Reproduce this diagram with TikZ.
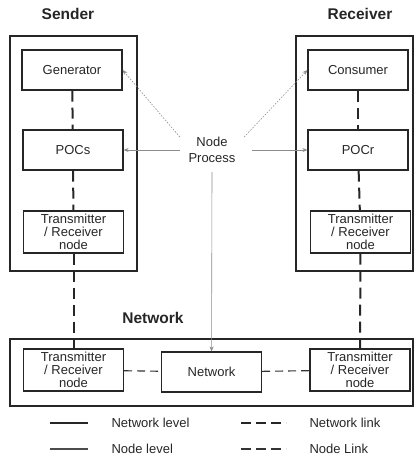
\documentclass[tikz,border=0pt]{standalone}
\usepackage{fontspec}
\setmainfont{Liberation Sans}
\usetikzlibrary{arrows.meta, positioning}

\begin{document}
\begin{tikzpicture}[x=1pt, y=-1pt,
    font=\fontsize{13}{13}\selectfont, text=black!85,
    unit/.style={draw=black!85, line width=1.2pt, minimum width=100pt, minimum height=40pt, inner sep=1pt, align=center},
    frame/.style={draw=black!85, line width=2.2pt},
    title/.style={font=\fontsize{15.5}{16}\selectfont\bfseries},
    netlink/.style={draw=black!85, line width=2pt, dash pattern=on 11pt off 6pt},
    nodelink/.style={draw=black!80, line width=1.1pt, dash pattern=on 8pt off 5pt},
    proc/.style={draw=black!45, line width=0.6pt, -{Stealth[length=5pt, width=4pt]}},
    procdot/.style={proc, dash pattern=on 1.5pt off 1.5pt}]
    \useasboundingbox (0,0) rectangle (416,458);

    % Titles
    \node[title] (sendt) at (68,14) {Sender};
    \node[title] (recvt) at (360,14) {Receiver};
    \node[title] (nett) at (153,318) {Network};

    % Outer frames
    \draw[frame] (10,36) rectangle (137,271);
    \draw[frame] (296,36) rectangle (413,271);
    \draw[frame] (10,339) rectangle (413,406);

    % Sender units
    \node[unit] (gen) at (72,70) {Generator};
    \node[unit] (pocs) at (73,150) {POCs};
    \node[unit, minimum height=42pt] (trs) at (73.5,232) {Transmitter\\/ Receiver\\node};

    % Receiver units
    \node[unit] (cons) at (358,70) {Consumer};
    \node[unit] (pocr) at (358,150) {POCr};
    \node[unit, minimum height=42pt] (trr) at (360.5,232) {Transmitter\\/ Receiver\\node};

    % Network units
    \node[unit, minimum height=42pt] (trl) at (73.5,370) {Transmitter\\/ Receiver\\node};
    \node[unit] (net) at (211.5,372) {Network};
    \node[unit, minimum height=42pt] (trn) at (360,370) {Transmitter\\/ Receiver\\node};

    % Node process
    \node[align=center, inner sep=1pt, minimum width=64pt, minimum height=44pt,
          font=\fontsize{13}{16}\selectfont] (np) at (212,150) {Node\\Process};

    % Network links
    \draw[netlink] (gen) -- (pocs);
    \draw[netlink] (pocs) -- (trs);
    \draw[netlink] (trs) -- (trl);
    \draw[netlink] (cons) -- (pocr);
    \draw[netlink] (pocr) -- (trr);
    \draw[netlink] (trr) -- (trn);

    % Node links
    \draw[nodelink] (trl) -- (net);
    \draw[nodelink] (net) -- (trn);

    % Node process arrows
    \draw[procdot] (np.158) -- (gen.east);
    \draw[procdot] (np.22) -- (cons.west);
    \draw[proc] (np) -- (pocs);
    \draw[proc] ([xshift=8pt]np.east) -- (pocr);
    \draw[proc] (np.south) -- (net);

    % Legend
    \draw[draw=black!85, line width=2pt] (50,423) -- (88,423);
    \node[anchor=west] (lnetl) at (108,423) {Network level};
    \draw[draw=black!70, line width=1.2pt] (50,449) -- (88,449);
    \node[anchor=west] (lnodel) at (108,449) {Node level};
    \draw[netlink, dash pattern=on 10pt off 5pt] (241,423) -- (286,423);
    \node[anchor=west] (lnetk) at (306,423) {Network link};
    \draw[nodelink, dash pattern=on 10pt off 5pt] (241,449) -- (286,449);
    \node[anchor=west] (lnodek) at (306,449) {Node Link};
\end{tikzpicture}
\end{document}
